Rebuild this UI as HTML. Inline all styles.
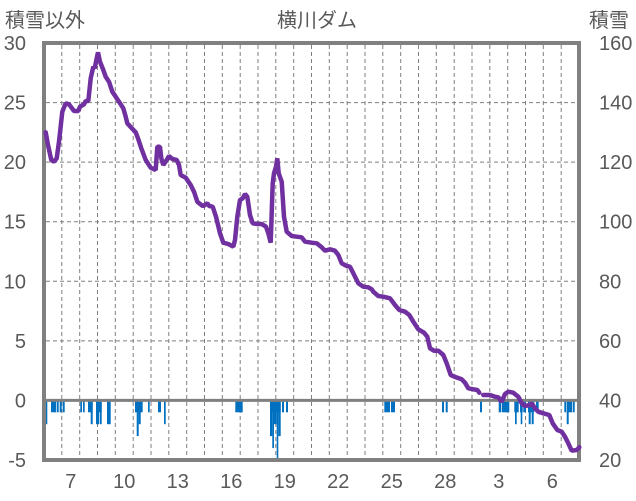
<!DOCTYPE html>
<html>
<head>
<meta charset="utf-8">
<style>
html,body{margin:0;padding:0;background:#fff;}
svg{display:block;}
text{font-family:"Liberation Sans","Noto Sans CJK JP",sans-serif;fill:#595959;}
</style>
</head>
<body>
<svg width="636" height="501" viewBox="0 0 636 501" xmlns="http://www.w3.org/2000/svg">
<rect x="0" y="0" width="636" height="501" fill="#fff"/>
<g stroke="#7f7f7f" stroke-width="1" stroke-dasharray="4 3" fill="none">
<line x1="46" y1="102.6" x2="577" y2="102.6"/>
<line x1="46" y1="162.1" x2="577" y2="162.1"/>
<line x1="46" y1="221.7" x2="577" y2="221.7"/>
<line x1="46" y1="281.3" x2="577" y2="281.3"/>
<line x1="46" y1="340.9" x2="577" y2="340.9"/>
<line x1="61.8" y1="45" x2="61.8" y2="458"/>
<line x1="79.7" y1="45" x2="79.7" y2="458"/>
<line x1="97.5" y1="45" x2="97.5" y2="458"/>
<line x1="115.3" y1="45" x2="115.3" y2="458"/>
<line x1="133.2" y1="45" x2="133.2" y2="458"/>
<line x1="151" y1="45" x2="151" y2="458"/>
<line x1="168.8" y1="45" x2="168.8" y2="458"/>
<line x1="186.7" y1="45" x2="186.7" y2="458"/>
<line x1="204.5" y1="45" x2="204.5" y2="458"/>
<line x1="222.3" y1="45" x2="222.3" y2="458"/>
<line x1="240.2" y1="45" x2="240.2" y2="458"/>
<line x1="258" y1="45" x2="258" y2="458"/>
<line x1="275.8" y1="45" x2="275.8" y2="458"/>
<line x1="293.7" y1="45" x2="293.7" y2="458"/>
<line x1="311.5" y1="45" x2="311.5" y2="458"/>
<line x1="329.3" y1="45" x2="329.3" y2="458"/>
<line x1="347.2" y1="45" x2="347.2" y2="458"/>
<line x1="365" y1="45" x2="365" y2="458"/>
<line x1="382.8" y1="45" x2="382.8" y2="458"/>
<line x1="400.7" y1="45" x2="400.7" y2="458"/>
<line x1="418.5" y1="45" x2="418.5" y2="458"/>
<line x1="436.3" y1="45" x2="436.3" y2="458"/>
<line x1="454.2" y1="45" x2="454.2" y2="458"/>
<line x1="472" y1="45" x2="472" y2="458"/>
<line x1="489.8" y1="45" x2="489.8" y2="458"/>
<line x1="507.7" y1="45" x2="507.7" y2="458"/>
<line x1="525.5" y1="45" x2="525.5" y2="458"/>
<line x1="543.3" y1="45" x2="543.3" y2="458"/>
<line x1="561.2" y1="45" x2="561.2" y2="458"/>
</g>
<g fill="#0070C0">
<rect x="45" y="400.4" width="2.3" height="23.8"/>
<rect x="51" y="400.4" width="5" height="11.9"/>
<rect x="56.7" y="400.4" width="2" height="11.9"/>
<rect x="59.7" y="400.4" width="2" height="11.9"/>
<rect x="62.7" y="400.4" width="2" height="11.9"/>
<rect x="80.3" y="400.4" width="1.7" height="11.9"/>
<rect x="83" y="400.4" width="1.7" height="11.9"/>
<rect x="88" y="400.4" width="4.7" height="11.9"/>
<rect x="90.7" y="400.4" width="2" height="23.8"/>
<rect x="96" y="400.4" width="5.7" height="11.9"/>
<rect x="96" y="400.4" width="3.3" height="23.8"/>
<rect x="100" y="400.4" width="1.7" height="23.8"/>
<rect x="107" y="400.4" width="3.7" height="23.8"/>
<rect x="135" y="400.4" width="7.7" height="11.9"/>
<rect x="136.7" y="400.4" width="2" height="35.7"/>
<rect x="138.7" y="400.4" width="2" height="23.8"/>
<rect x="148" y="400.4" width="1.7" height="11.9"/>
<rect x="158" y="400.4" width="3" height="11.9"/>
<rect x="164" y="400.4" width="1.7" height="23.8"/>
<rect x="235.3" y="400.4" width="7.4" height="11.9"/>
<rect x="270" y="400.4" width="10.7" height="11.9"/>
<rect x="270" y="400.4" width="2.3" height="35.7"/>
<rect x="272.3" y="400.4" width="1.7" height="47.7"/>
<rect x="274" y="400.4" width="2.7" height="23.8"/>
<rect x="276.7" y="400.4" width="1.6" height="59.6"/>
<rect x="278.3" y="400.4" width="2.4" height="35.7"/>
<rect x="282" y="400.4" width="2" height="11.9"/>
<rect x="286" y="400.4" width="2" height="11.9"/>
<rect x="384.3" y="400.4" width="5.7" height="11.9"/>
<rect x="391" y="400.4" width="4" height="11.9"/>
<rect x="442" y="400.4" width="2" height="11.9"/>
<rect x="445.7" y="400.4" width="2" height="11.9"/>
<rect x="480" y="400.4" width="2" height="11.9"/>
<rect x="498.7" y="400.4" width="2.3" height="11.9"/>
<rect x="501.7" y="400.4" width="7.6" height="11.9"/>
<rect x="514.3" y="400.4" width="4.4" height="11.9"/>
<rect x="515" y="400.4" width="1.7" height="23.8"/>
<rect x="520" y="400.4" width="2.7" height="11.9"/>
<rect x="520.7" y="400.4" width="1.6" height="23.8"/>
<rect x="523.3" y="400.4" width="2.7" height="11.9"/>
<rect x="528" y="400.4" width="3" height="11.9"/>
<rect x="528.7" y="400.4" width="2" height="23.8"/>
<rect x="531" y="400.4" width="3.3" height="11.9"/>
<rect x="531.7" y="400.4" width="2" height="23.8"/>
<rect x="536" y="400.4" width="2.7" height="11.9"/>
<rect x="564.3" y="400.4" width="1.7" height="11.9"/>
<rect x="566.7" y="400.4" width="5.3" height="11.9"/>
<rect x="566.7" y="400.4" width="2" height="23.8"/>
<rect x="572.7" y="400.4" width="2" height="11.9"/>
</g>
<line x1="44" y1="400.4" x2="579" y2="400.4" stroke="#808080" stroke-width="3"/>
<rect x="44" y="43" width="535" height="417" fill="none" stroke="#808080" stroke-width="4"/>
<g fill="none" stroke="#7030A0" stroke-width="4.5" stroke-linejoin="miter" stroke-miterlimit="1" stroke-linecap="round">
<polyline points="45.7,132.3 48,145 51.3,160 54,161.7 56.7,158.3 59,141.7 62.3,111.7 65.7,103.3 69,104.3 74,111 78.3,111 80,106.7 84,104.3 85.7,101 88.3,101 90.7,78.3 93.3,66.7 94.7,68.3 95.7,63.3 96.7,58.3 98,52.3 100,61.7 103.3,70 105.7,76.7 109,81.7 112.3,91.7 115.7,96.7 119,101.7 123.3,108.3 125.7,116.7 127.3,123.3 131.3,127.7 135.7,132.3 138,138.3 141.3,148.3 145.7,160 150.7,167.7 155.7,170 157.3,146.7 160,146.7 161.3,158.3 163.3,165 166.7,160 169,156 172.3,159 176.7,160 179,165 180.7,175 185.7,177.7 190.7,185 194,191.7 197.3,201.7 202.3,205.7 203.3,206 207.3,203.3 209.3,206 212.7,206.7 216,216.7 220,233.3 223.3,242.7 228.3,244 233.3,246.7 235,240 237.3,216.7 240,200 242.7,198.3 245,194 247.3,196.7 250,215 252.7,223.3 256.7,224 261.7,224 266,226.7 268.3,233.3 270.7,242.7 272.7,183.3 274,173.3 276,166.7 277.3,158.3 278.7,173.3 281.7,181.7 284,216.7 286.7,231.7 291.7,236 296.7,236.7 301.7,237.3 305,241.7 311.7,242.7 316.7,243.3 321.7,247.3 325,250.7 330,249.3 335,250.7 338.3,255 341.7,263.3 346.7,266 350,266.7 353.3,273.3 358.3,283.3 363.3,286.7 368.3,287.3 371.7,289.3 373.3,291.7 378.3,296 383.3,296.7 390,298.3 395,305 399.3,310 405,311.7 409.3,315 413.3,321.7 418.3,329.3 424,332.7 427.3,336.7 430,348.3 434,350.7 438.3,350.7 443.3,355 446.7,363.3 450.7,375 456,377.3 461.7,379.3 465,382.7 468.3,388.3 473.3,389.3 477.3,390 479.3,392.7"/>
<polyline points="483.3,395 490,395 495,396.7 498.3,397.3 501.7,401.7 505,394 508.3,391.7 513.3,392.7 518.3,396.7 521.7,403.3 525,406 530,405 531.7,403.3 535,408.3 538.3,411.7 543.3,413.3 549.3,415 552.7,423.3 557.3,430 561.7,431.7 565,436.7 568.3,443.3 571.7,450.7 576.7,450 579.3,447.3"/>
</g>
<text x="5" y="27" font-size="20">積雪以外</text>
<text x="317" y="27" font-size="20" text-anchor="middle">横川ダム</text>
<text x="589" y="27" font-size="20">積雪</text>
<g font-size="20" text-anchor="end">
<text x="26" y="50">30</text>
<text x="26" y="109.6">25</text>
<text x="26" y="169.1">20</text>
<text x="26" y="228.7">15</text>
<text x="26" y="288.3">10</text>
<text x="26" y="347.9">5</text>
<text x="26" y="407.4">0</text>
<text x="26" y="467">-5</text>
</g>
<g font-size="20" text-anchor="start">
<text x="599" y="50">160</text>
<text x="599" y="109.6">140</text>
<text x="599" y="169.1">120</text>
<text x="599" y="228.7">100</text>
<text x="599" y="288.3">80</text>
<text x="599" y="347.9">60</text>
<text x="599" y="407.4">40</text>
<text x="599" y="467">20</text>
</g>
<g font-size="20" text-anchor="middle">
<text x="70.8" y="488">7</text>
<text x="124.3" y="488">10</text>
<text x="177.8" y="488">13</text>
<text x="231.3" y="488">16</text>
<text x="284.8" y="488">19</text>
<text x="338.3" y="488">22</text>
<text x="391.8" y="488">25</text>
<text x="445.3" y="488">28</text>
<text x="498.8" y="488">3</text>
<text x="552.3" y="488">6</text>
</g>
</svg>
</body>
</html>
